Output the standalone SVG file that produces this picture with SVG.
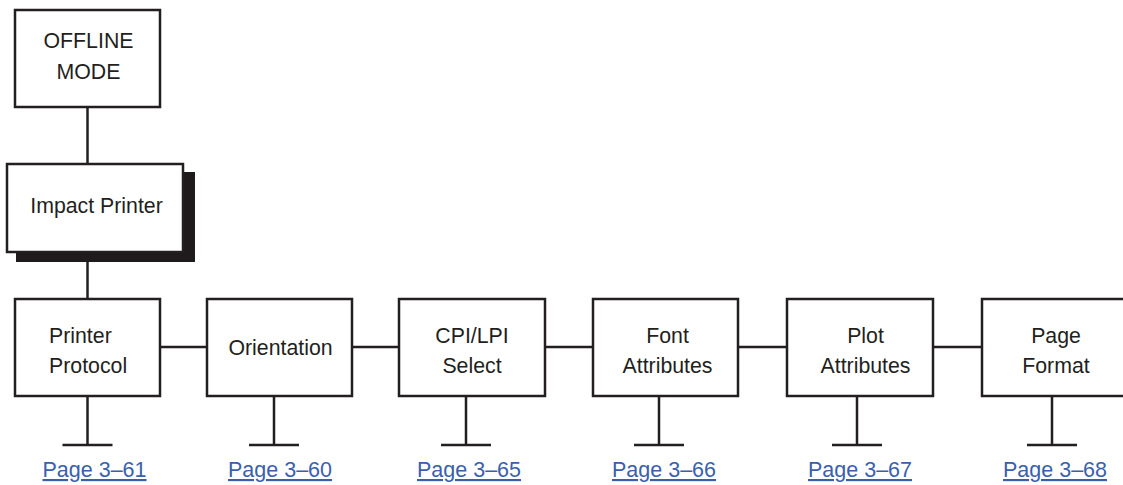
<svg xmlns="http://www.w3.org/2000/svg" width="1123" height="485" viewBox="0 0 1123 485">
<style>
.box{fill:#fff;stroke:#231f20;stroke-width:2.5}
.ln{stroke:#231f20;stroke-width:2.5;fill:none}
.t{font-family:"Liberation Sans",Arial,sans-serif;font-size:21.3px;fill:#231f20;text-anchor:middle}
.lk{font-family:"Liberation Sans",Arial,sans-serif;font-size:21.5px;fill:#3a5fad;text-anchor:middle;text-decoration:underline}
</style>
<rect width="1123" height="485" fill="#fff"/>
<g id="connectors">
<line class="ln" x1="87.5" y1="107" x2="87.5" y2="164"/>
<line class="ln" x1="87.5" y1="262" x2="87.5" y2="299"/>
<line class="ln" x1="160" y1="347" x2="210" y2="347"/>
<line class="ln" x1="352" y1="347" x2="399" y2="347"/>
<line class="ln" x1="545" y1="347" x2="593" y2="347"/>
<line class="ln" x1="738" y1="347" x2="787" y2="347"/>
<line class="ln" x1="933" y1="347" x2="982" y2="347"/>
<path class="ln" d="M87.5 396V445M62.5 445H112.5"/>
<path class="ln" d="M274 396V445M249 445H299"/>
<path class="ln" d="M466 396V445M441 445H491"/>
<path class="ln" d="M659 396V445M634 445H684"/>
<path class="ln" d="M857 396V445M832 445H882"/>
<path class="ln" d="M1052 396V445M1027 445H1077"/>
</g>
<g id="offline">
<rect class="box" x="15" y="10" width="145" height="97"/>
<text class="t" x="88.5" y="48">OFFLINE</text>
<text class="t" x="88.5" y="79">MODE</text>
</g>
<g id="impact">
<rect x="16" y="172" width="179" height="90" fill="#1f1b1c"/>
<rect class="box" x="7" y="164" width="176" height="88"/>
<text class="t" x="96.5" y="213">Impact Printer</text>
</g>
<g id="protocol">
<rect class="box" x="15" y="299" width="145" height="97"/>
<text class="t" x="49" y="343" style="text-anchor:start">Printer</text>
<text class="t" x="49" y="373" style="text-anchor:start">Protocol</text>
<text class="lk" x="94.5" y="477">Page 3–61</text>
</g>
<g id="orientation">
<rect class="box" x="207" y="299" width="145" height="97"/>
<text class="t" x="280.5" y="355">Orientation</text>
<text class="lk" x="280" y="477">Page 3–60</text>
</g>
<g id="cpilpi">
<rect class="box" x="399" y="299" width="146" height="97"/>
<text class="t" x="472" y="343">CPI/LPI</text>
<text class="t" x="472" y="373">Select</text>
<text class="lk" x="469" y="477">Page 3–65</text>
</g>
<g id="font">
<rect class="box" x="593" y="299" width="145" height="97"/>
<text class="t" x="667.5" y="343">Font</text>
<text class="t" x="667.5" y="373">Attributes</text>
<text class="lk" x="664" y="477">Page 3–66</text>
</g>
<g id="plot">
<rect class="box" x="787" y="299" width="146" height="97"/>
<text class="t" x="865.5" y="343">Plot</text>
<text class="t" x="865.5" y="373">Attributes</text>
<text class="lk" x="860" y="477">Page 3–67</text>
</g>
<g id="pageformat">
<rect class="box" x="982" y="299" width="146" height="97"/>
<text class="t" x="1056" y="343">Page</text>
<text class="t" x="1056" y="373">Format</text>
<text class="lk" x="1055" y="477">Page 3–68</text>
</g>
</svg>
